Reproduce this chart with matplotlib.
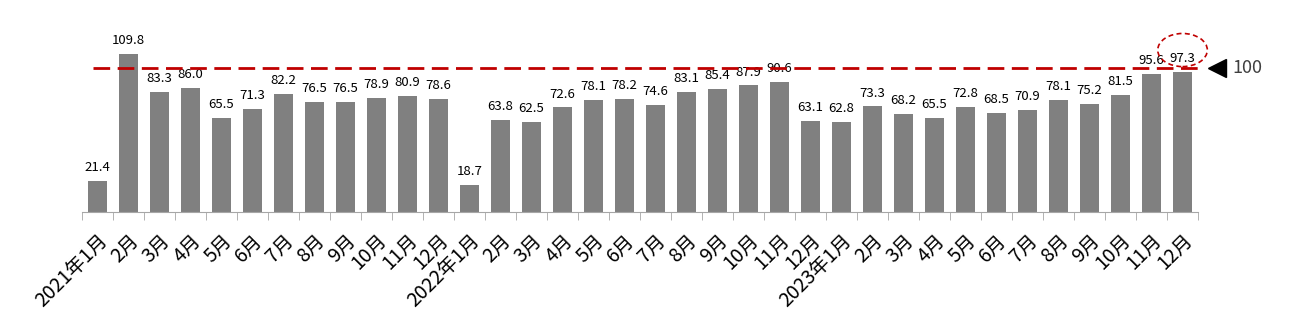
import matplotlib.pyplot as plt
from matplotlib.patches import Ellipse

plt.rcParams['font.family'] = ['Noto Sans CJK SC', 'DejaVu Sans']

# 数据
months = ['2021年1月', '2月', '3月', '4月', '5月', '6月', '7月', '8月', '9月', '10月', '11月', '12月',
          '2022年1月', '2月', '3月', '4月', '5月', '6月', '7月', '8月', '9月', '10月', '11月', '12月',
          '2023年1月', '2月', '3月', '4月', '5月', '6月', '7月', '8月', '9月', '10月', '11月', '12月']
values = [21.4, 109.8, 83.3, 86.0, 65.5, 71.3, 82.2, 76.5, 76.5, 78.9, 80.9, 78.6,
          18.7, 63.8, 62.5, 72.6, 78.1, 78.2, 74.6, 83.1, 85.4, 87.9, 90.6, 63.1,
          62.8, 73.3, 68.2, 65.5, 72.8, 68.5, 70.9, 78.1, 75.2, 81.5, 95.6, 97.3]
ref_level = 100

fig = plt.figure(figsize=(12.9, 3.19), dpi=100)
ax = fig.add_axes([0.0636, 0.3354, 0.8651, 0.5416])

x = list(range(len(values)))
ax.bar(x, values, width=0.6, color='#808080', zorder=2)

for xi, v in zip(x, values):
    ax.annotate(f'{v:.1f}', (xi, v), xytext=(0, 5), textcoords='offset points',
                ha='center', va='bottom', fontsize=9.5, color='black')

ax.set_xlim(-0.5, len(values) - 0.5)
ax.set_ylim(0, 120)

# 100 参考线
ax.axhline(ref_level, xmin=0.01, xmax=1.0, color='#C00000', lw=2,
           dashes=(6, 2.7), clip_on=False, zorder=3)
ax.plot([1.017], [ref_level], marker='<', markersize=13, color='black',
        transform=ax.get_yaxis_transform(), clip_on=False)
ax.text(1.031, ref_level, '100', transform=ax.get_yaxis_transform(),
        va='center', ha='left', fontsize=13, color='#404040')

# 圈出最后一个值
ax.add_patch(Ellipse((x[-1], 112.5), 1.6, 23, fill=False, edgecolor='#C00000',
                     lw=1.2, ls=(0, (3, 2)), clip_on=False, zorder=4))

# 坐标轴
ax.set_xticks(x)
ax.set_xticklabels(months, rotation=45, ha='right', rotation_mode='anchor', fontsize=14)
ax.set_xticks([i - 0.5 for i in range(len(values) + 1)], minor=True)
ax.tick_params(axis='x', which='major', length=0, pad=13)
ax.tick_params(axis='x', which='minor', length=6, color='#A6A6A6')
ax.set_yticks([])
for s in ['top', 'right', 'left']:
    ax.spines[s].set_visible(False)
ax.spines['bottom'].set_color('#A6A6A6')

fig.savefig('out.png', dpi=100)
